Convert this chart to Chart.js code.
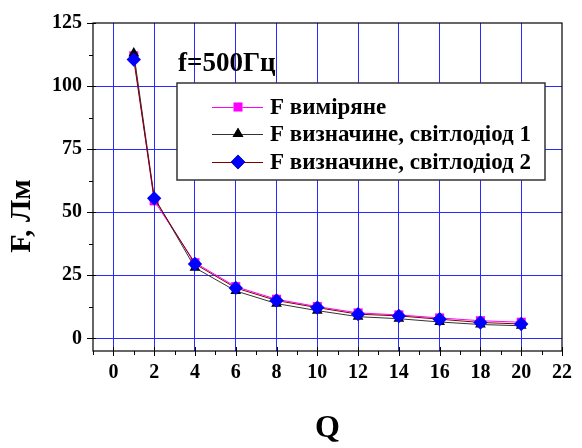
<!DOCTYPE html>
<html>
<head>
<meta charset="utf-8">
<script src="https://cdn.jsdelivr.net/npm/chart.js@4/dist/chart.umd.min.js"></script>
<style>
  html, body { margin: 0; padding: 0; background: #fff; }
  #wrap { width: 582px; height: 448px; position: relative; }
</style>
</head>
<body>
<div id="wrap"><canvas id="c" width="582" height="448"></canvas></div>
<script>
// Luminous flux F versus Q at f = 500 Hz
const qValues   = [1, 2, 4, 6, 8, 10, 12, 14, 16, 18, 20];
const fMeasured = [112, 54.5, 30, 20.5, 15.5, 12.6, 10.1, 9.3, 8.1, 7.0, 6.4];
const fLed1     = [113, 56, 28, 18.8, 13.8, 11.0, 8.6, 7.8, 6.5, 5.5, 5.0];
const fLed2     = [110.5, 55.5, 29.5, 20, 15, 12.2, 9.6, 8.9, 7.6, 6.3, 5.7];

const seriesLabels = ['F виміряне', 'F визначине, світлодіод 1', 'F визначине, світлодіод 2'];
const xTickValues = [-1,0,1,2,3,4,5,6,7,8,9,10,11,12,13,14,15,16,17,18,19,20,21,22];
const yTickValues = [0, 12.5, 25, 37.5, 50, 62.5, 75, 87.5, 100, 112.5, 125];
const annotationText = 'f=500Гц';
const xTitle = 'Q';
const yTitle = 'F, Лм';

const SERIF = '"Liberation Serif", "Times New Roman", serif';
const GRID = '#2a2aff';

function pts(ys) { return qValues.map((q, i) => ({ x: q, y: ys[i] })); }

const styles = [
  { line: '#ff00ff', fill: '#ff00ff', shape: 'rect', r: 6.4 },
  { line: '#333333', fill: '#000000', shape: 'triangle', r: 6.2 },
  { line: '#800000', fill: '#0000ff', shape: 'rectRot', r: 7.2 }
];
const series = [fMeasured, fLed1, fLed2];

const datasets = series.map((ys, i) => ({
  label: seriesLabels[i],
  data: pts(ys),
  showLine: true,
  borderColor: styles[i].line,
  borderWidth: 1,
  backgroundColor: styles[i].fill,
  pointBackgroundColor: styles[i].fill,
  pointBorderColor: styles[i].fill,
  pointBorderWidth: 0,
  pointStyle: styles[i].shape,
  pointRadius: styles[i].r,
  tension: 0,
  order: 2 - i
}));

// frame and tick marks of both axes
const framePlugin = {
  id: 'frame',
  beforeDatasetsDraw(chart) {
    const { ctx, chartArea: a, scales } = chart;
    ctx.save();
    ctx.strokeStyle = '#000';
    ctx.lineWidth = 1.2;
    ctx.strokeRect(a.left, a.top, a.right - a.left, a.bottom - a.top);
    ctx.lineWidth = 1;
    ctx.beginPath();
    xTickValues.forEach(v => {
      const x = Math.round(scales.x.getPixelForValue(v)) + 0.5;
      const major = v % 2 === 0;
      ctx.moveTo(x, a.bottom + (major ? 5 : 4));
      ctx.lineTo(x, a.bottom - (major ? 4 : 0));
    });
    yTickValues.forEach(v => {
      const y = Math.round(scales.y.getPixelForValue(v)) + 0.5;
      const major = v % 25 === 0;
      ctx.moveTo(a.left - (major ? 6 : 4), y);
      ctx.lineTo(a.left + (major ? 3 : 0), y);
    });
    ctx.stroke();
    ctx.restore();
  }
};

// legend box, frequency annotation and the vertical axis title
const legendPlugin = {
  id: 'boxLegend',
  afterDraw(chart) {
    const { ctx } = chart;
    ctx.save();
    ctx.font = 'bold 27px ' + SERIF;
    ctx.fillStyle = '#000';
    ctx.textBaseline = 'alphabetic';
    ctx.fillText(annotationText, 178, 71);

    ctx.save();
    ctx.translate(22, 216);
    ctx.rotate(-Math.PI / 2);
    ctx.font = 'bold 30px ' + SERIF;
    ctx.textAlign = 'center';
    ctx.textBaseline = 'middle';
    ctx.fillText(yTitle, 0, 0);
    ctx.restore();

    const bx = 177, by = 83, bw = 368, bh = 97;
    ctx.fillStyle = '#fff';
    ctx.fillRect(bx, by, bw, bh);
    ctx.strokeStyle = '#333';
    ctx.lineWidth = 1.5;
    ctx.strokeRect(bx, by, bw, bh);

    const rows = [107, 134, 162];
    rows.forEach((ry, i) => {
      const st = styles[i];
      ctx.strokeStyle = st.line;
      ctx.lineWidth = 1;
      ctx.beginPath();
      ctx.moveTo(212, ry + 0.5);
      ctx.lineTo(263, ry + 0.5);
      ctx.stroke();
      Chart.helpers.drawPoint(ctx, {
        pointStyle: st.shape, radius: st.r, borderWidth: 0, rotation: 0
      }, 238, ry);
      ctx.fillStyle = st.fill;
      ctx.fill();
      ctx.fillStyle = '#000';
      ctx.font = 'bold 23px ' + SERIF;
      ctx.textBaseline = 'middle';
      ctx.fillText(seriesLabels[i], 270, ry + 1);
    });
    ctx.restore();
  }
};

new Chart(document.getElementById('c'), {
  type: 'scatter',
  data: { datasets },
  options: {
    responsive: false,
    animation: false,
    devicePixelRatio: 1,
    layout: { padding: { left: 0, right: 10, top: 16, bottom: 0 } },
    plugins: { legend: { display: false }, tooltip: { enabled: false } },
    scales: {
      x: {
        type: 'linear',
        min: -1, max: 22,
        afterBuildTicks: s => { s.ticks = xTickValues.map(v => ({ value: v })); },
        afterFit: s => { s.height = 97; },
        border: { display: false },
        grid: {
          drawTicks: false,
          lineWidth: 1,
          color: c => (c.tick && c.tick.value % 2 === 0 && c.tick.value >= 0 && c.tick.value <= 20) ? GRID : 'rgba(0,0,0,0)'
        },
        ticks: {
          autoSkip: false, maxRotation: 0, padding: 10,
          color: '#000',
          font: { family: SERIF, size: 20, weight: 'bold' },
          callback: v => (v % 2 === 0 && v >= 0) ? String(v) : ''
        },
        title: {
          display: true, text: xTitle, color: '#000',
          font: { family: SERIF, size: 32, weight: 'bold' },
          padding: { top: 18, bottom: 0 }
        }
      },
      y: {
        type: 'linear',
        min: -5, max: 125,
        afterBuildTicks: s => { s.ticks = yTickValues.map(v => ({ value: v })); },
        afterFit: s => { s.width = 93; },
        border: { display: false },
        grid: {
          drawTicks: false,
          lineWidth: 1,
          color: c => (c.tick && c.tick.value % 25 === 0 && c.tick.value <= 100) ? GRID : 'rgba(0,0,0,0)'
        },
        ticks: {
          autoSkip: false, padding: 11,
          color: '#000',
          font: { family: SERIF, size: 20, weight: 'bold' },
          callback: v => (v % 25 === 0) ? String(v) : ''
        }
      }
    }
  },
  plugins: [framePlugin, legendPlugin]
});
</script>
</body>
</html>
